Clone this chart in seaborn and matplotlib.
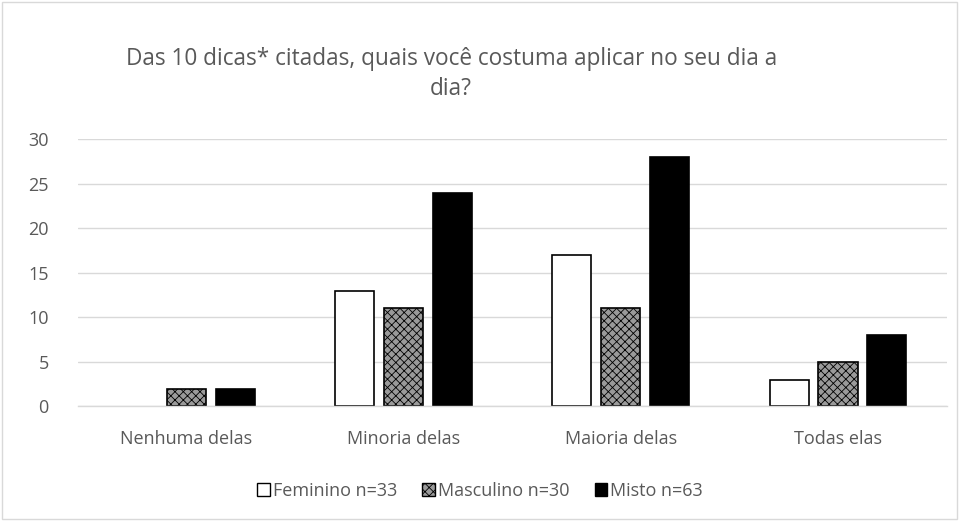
import matplotlib
matplotlib.use("Agg")
import matplotlib.pyplot as plt
import seaborn as sns
import pandas as pd
from matplotlib.patches import Rectangle, Patch

categories = ["Nenhuma delas", "Minoria delas", "Maioria delas", "Todas elas"]
series = ["Feminino n=33", "Masculino n=30", "Misto n=63"]
feminino = [0, 13, 17, 3]
masculino = [2, 11, 11, 5]
misto = [2, 24, 28, 8]
yticks = [0, 5, 10, 15, 20, 25, 30]
title = "Das 10 dicas* citadas, quais você costuma aplicar no seu dia a\ndia?"

rows = []
for s, vals in zip(series, [feminino, masculino, misto]):
    for c, v in zip(categories, vals):
        rows.append({"cat": c, "serie": s, "val": v})
df = pd.DataFrame(rows)

sns.set_theme(style="white")
plt.rcParams['font.family'] = ['Open Sans', 'DejaVu Sans']
plt.rcParams['hatch.linewidth'] = 0.6

fig = plt.figure(figsize=(9.6, 5.21), dpi=100)
ax = fig.add_axes([0.081, 0.22, 0.905, 0.513])

styles = {
    series[0]: dict(facecolor="white", hatch=None),
    series[1]: dict(facecolor="#9a9a9a", hatch="xxxx"),
    series[2]: dict(facecolor="black", hatch=None),
}

sns.barplot(data=df, x="cat", y="val", hue="serie", order=categories,
            hue_order=series, width=0.675, gap=0.2, ax=ax, legend=False,
            palette=["white", "#9a9a9a", "black"], errorbar=None)

n = len(categories)
for i, p in enumerate(ax.patches):
    s = series[i // n]
    st = styles[s]
    p.set_facecolor(st["facecolor"])
    p.set_edgecolor("black")
    p.set_linewidth(1.2 if p.get_height() > 0 else 0)
    if st["hatch"]:
        p.set_hatch(st["hatch"])

ax.set_ylim(0, 30)
ax.set_xlim(-0.5, 3.5)
ax.set_yticks(yticks)
ax.set_yticklabels([str(t) for t in yticks], fontsize=13, color="#595959")
ax.tick_params(axis='x', labelsize=13, labelcolor="#595959", length=0, pad=17)
ax.tick_params(axis='y', length=0, pad=21)
ax.set_xlabel("")
ax.set_ylabel("")
ax.grid(axis='y', color="#d9d9d9", linewidth=1)
ax.set_axisbelow(True)
for sp in ["top", "right", "left"]:
    ax.spines[sp].set_visible(False)
ax.spines["bottom"].set_color("#d9d9d9")
ax.spines["bottom"].set_linewidth(1)

fig.text(0.47, 0.858, title, ha="center", va="center", fontsize=16.3,
         color="#595959", linespacing=1.3)

handles = [Patch(facecolor="white", edgecolor="black", label=series[0]),
           Patch(facecolor="#9a9a9a", edgecolor="black", hatch="xxxx", label=series[1]),
           Patch(facecolor="black", edgecolor="black", label=series[2])]
leg = fig.legend(handles=handles, loc="center", bbox_to_anchor=(0.5, 0.058), ncol=3,
                 frameon=False, fontsize=13, handlelength=0.7, handleheight=0.7,
                 handletextpad=0.15, columnspacing=1.4)
for t in leg.get_texts():
    t.set_color("#595959")

fig.patches.append(Rectangle((0.002, 0.003), 0.995, 0.993, transform=fig.transFigure,
                             fill=False, edgecolor="#d9d9d9", linewidth=1))

fig.savefig("out.png", dpi=100, facecolor="white")
